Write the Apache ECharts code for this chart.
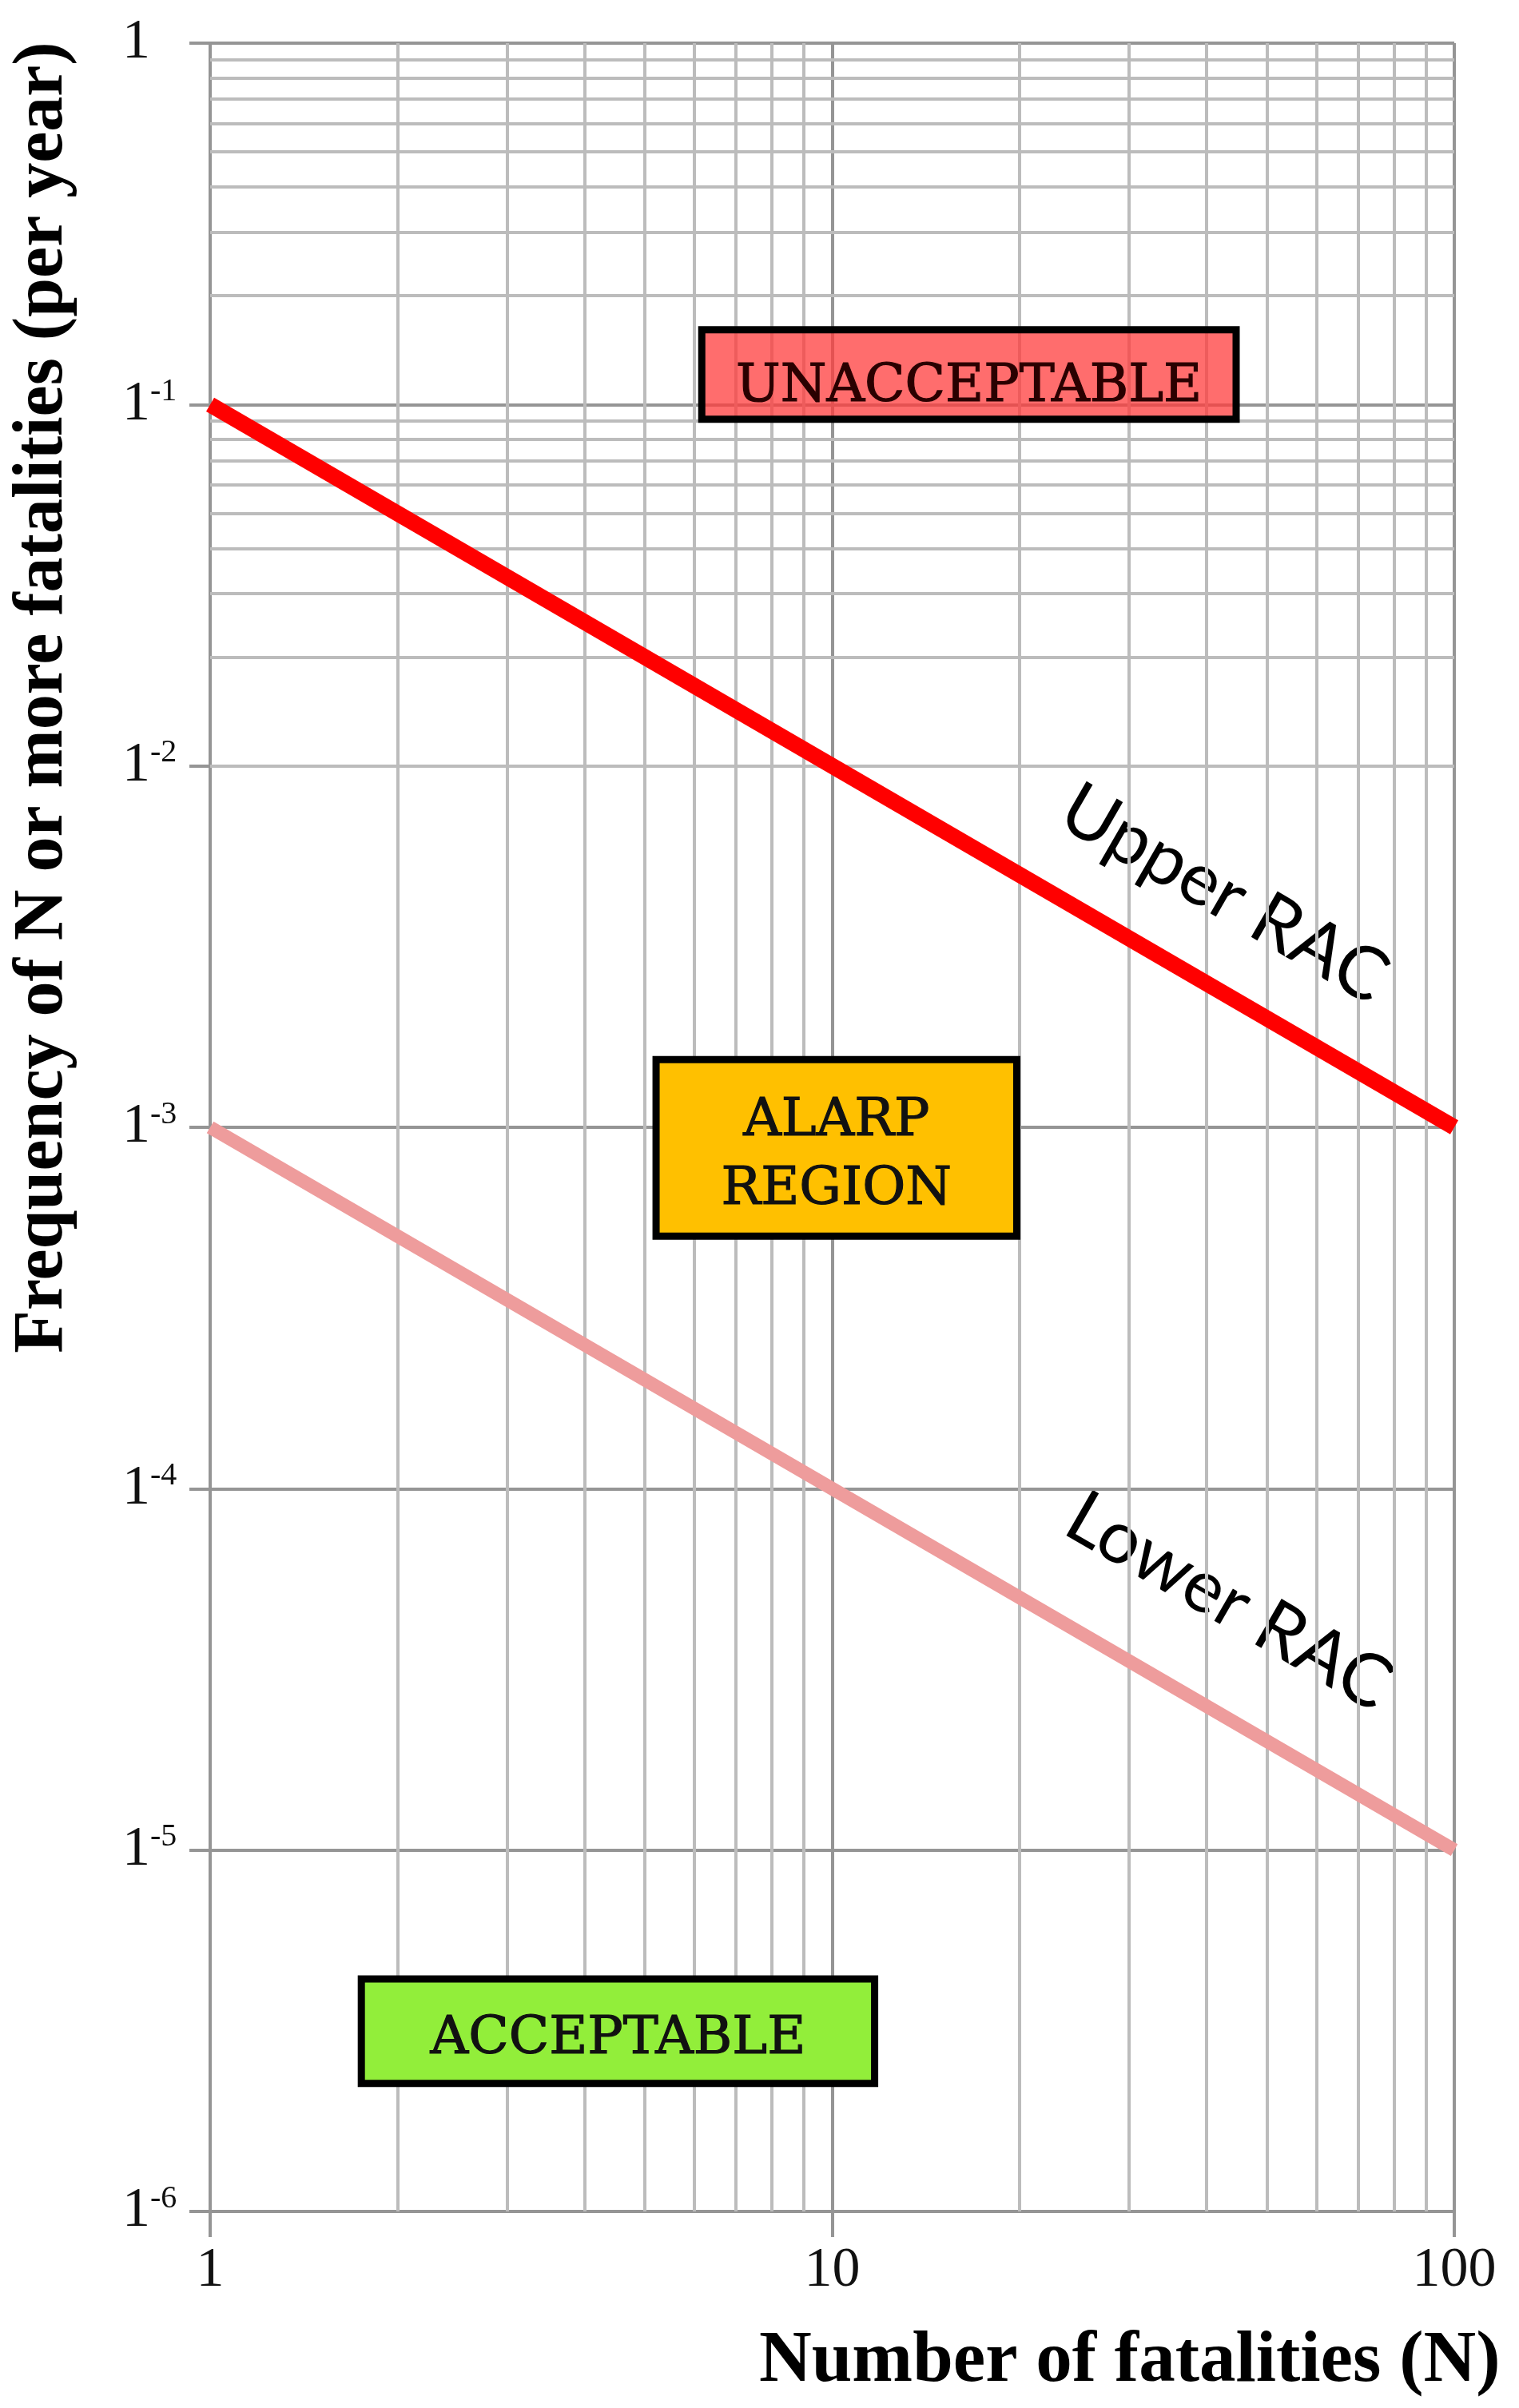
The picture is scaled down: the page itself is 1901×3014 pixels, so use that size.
<!DOCTYPE html>
<html>
<head>
<meta charset="utf-8">
<title>FN curve</title>
<script src="https://cdn.jsdelivr.net/npm/echarts@6/dist/echarts.min.js"></script>
<style>
    html, body { margin: 0; padding: 0; background: #fff; }
    #main { width: 1901px; height: 3014px; }
</style>
</head>
<body>
<div id="main"></div>
<script>
// number of fatalities N at the two ends of each criterion line
var nPoints = [1, 100];
// frequency (per year) of N or more fatalities
var upperRac = [0.1, 0.001];
var lowerRac = [0.001, 0.00001];

// decade exponents shown on the y axis (labels read "1", "1-1" ... "1-6")
var yExponents = [0, -1, -2, -3, -4, -5, -6];
var xDecades = [1, 10];
var mantissas = [2, 3, 4, 5, 6, 7, 8, 9];

// region boxes: names, N range, frequency range
var zoneNames = ['UNACCEPTABLE', 'ALARP\nREGION', 'ACCEPTABLE'];
var zoneN = [[6.17, 44.6], [5.21, 19.8], [1.75, 11.7]];
var zoneFreq = [[0.161, 0.091], [0.00154, 0.0005], [0.0000044, 0.00000226]];

var zoneColors = ['rgba(255,60,60,0.75)', '#ffc000', '#92ee3a'];
var zoneTextColors = ['#2a0000', '#111', '#111'];
var zoneTextShift = [16, 10, 10];

var serif = '"Liberation Serif", "Times New Roman", serif';
var majorGrid = '#959595';
var minorGrid = '#bcbcbc';

// minor log grid lines (2..9 in every decade)
var minorLines = [];
xDecades.forEach(function (d) {
    mantissas.forEach(function (m) { minorLines.push({ xAxis: m * d }); });
});
yExponents.slice(1).forEach(function (e) {
    mantissas.forEach(function (m) { minorLines.push({ yAxis: m * Math.pow(10, e) }); });
});

var zoneData = zoneNames.map(function (name, i) {
    return [
        {
            name: name,
            coord: [zoneN[i][0], zoneFreq[i][0]],
            itemStyle: { color: zoneColors[i], borderColor: '#000', borderWidth: 9 },
            label: {
                show: true,
                position: 'inside',
                offset: [0, zoneTextShift[i]],
                color: zoneTextColors[i],
                textBorderColor: zoneTextColors[i],
                textBorderWidth: 1.2,
                fontFamily: '"DejaVu Serif", serif',
                fontSize: 66,
                lineHeight: 86
            }
        },
        { coord: [zoneN[i][1], zoneFreq[i][1]] }
    ];
});

function pairs(ys) {
    return nPoints.map(function (n, i) { return [n, ys[i]]; });
}

var myChart = echarts.init(document.getElementById('main'));
myChart.setOption({
    animation: false,
    backgroundColor: '#fff',
    grid: { left: 263, right: 81, top: 54, bottom: 246 },
    xAxis: {
        type: 'log',
        logBase: 10,
        min: 1,
        max: 100,
        axisLine: { show: true, lineStyle: { color: majorGrid, width: 4 } },
        axisTick: { show: true, length: 32, lineStyle: { color: majorGrid, width: 4 } },
        splitLine: { show: true, lineStyle: { color: majorGrid, width: 4 } },
        axisLabel: {
            margin: 40,
            fontFamily: serif,
            fontSize: 70,
            color: '#111',
            showMinLabel: true,
            showMaxLabel: true,
            formatter: function (v) { return String(Math.round(v)); }
        }
    },
    yAxis: {
        type: 'log',
        logBase: 10,
        min: 0.000001,
        max: 1,
        axisLine: { show: true, lineStyle: { color: majorGrid, width: 4 } },
        axisTick: { show: true, length: 26, lineStyle: { color: majorGrid, width: 4 } },
        splitLine: { show: true, lineStyle: { color: majorGrid, width: 4 } },
        axisLabel: {
            align: 'left',
            margin: 110,
            showMinLabel: true,
            showMaxLabel: true,
            formatter: function (v) {
                var e = Math.round(Math.log10(v));
                return e === 0 ? '{b|1}' : '{b|1}{s|' + e + '}';
            },
            rich: {
                b: { fontFamily: serif, fontSize: 70, lineHeight: 72, color: '#111' },
                s: { fontFamily: serif, fontSize: 40, lineHeight: 44, color: '#111', verticalAlign: 'top' }
            }
        }
    },
    series: [
        {
            name: 'minor grid',
            type: 'line',
            data: [],
            z: 1,
            silent: true,
            markLine: {
                z: 1,
                silent: true,
                symbol: ['none', 'none'],
                label: { show: false },
                emphasis: { disabled: true },
                lineStyle: { color: minorGrid, width: 4, type: 'solid' },
                data: minorLines
            }
        },
        {
            name: 'regions',
            type: 'line',
            data: [],
            z: 3,
            silent: true,
            markArea: { z: 3, silent: true, emphasis: { disabled: true }, data: zoneData }
        },
        {
            name: 'Upper RAC',
            type: 'line',
            data: pairs(upperRac),
            symbol: 'none',
            z: 5,
            silent: true,
            lineStyle: { color: '#ff0000', width: 20, cap: 'butt' }
        },
        {
            name: 'Lower RAC',
            type: 'line',
            data: pairs(lowerRac),
            symbol: 'none',
            z: 5,
            silent: true,
            lineStyle: { color: '#ee9c9c', width: 17, cap: 'butt' }
        }
    ],
    graphic: [
        {
            type: 'text', x: 54, y: 873, rotation: Math.PI / 2,
            style: {
                text: 'Frequency of N or more fatalities (per year)',
                fontFamily: serif, fontWeight: 'bold', fontSize: 88, fill: '#000',
                align: 'center', verticalAlign: 'middle'
            }
        },
        {
            type: 'text', x: 950, y: 2956,
            style: {
                text: 'Number of fatalities (N)',
                fontFamily: serif, fontWeight: 'bold', fontSize: 91, fill: '#000',
                align: 'left', verticalAlign: 'middle'
            }
        },
        {
            type: 'text', x: 1532, y: 1119, rotation: -Math.PI / 6,
            style: {
                text: 'Upper RAC', fontFamily: 'Lato', fontSize: 92, fill: '#000',
                align: 'center', verticalAlign: 'middle'
            }
        },
        {
            type: 'text', x: 1538, y: 2005, rotation: -Math.PI / 6,
            style: {
                text: 'Lower RAC', fontFamily: 'Lato', fontSize: 92, fill: '#000',
                align: 'center', verticalAlign: 'middle'
            }
        }
    ]
});
</script>
</body>
</html>
